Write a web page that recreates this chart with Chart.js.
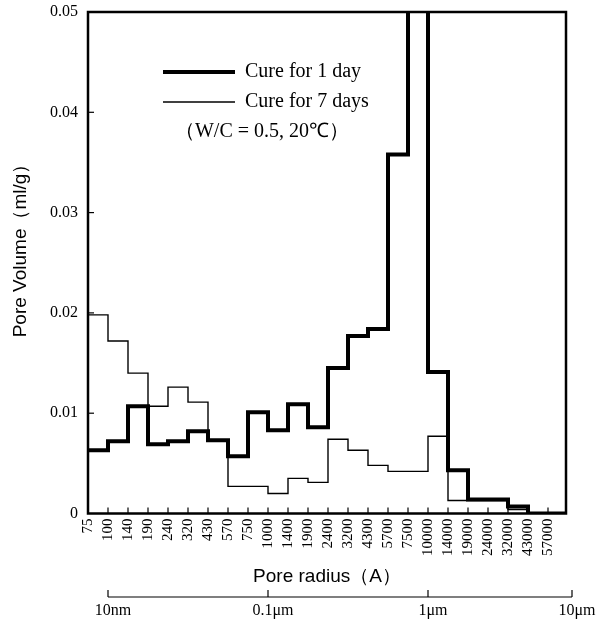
<!DOCTYPE html>
<html><head><meta charset="utf-8">
<script src="https://cdn.jsdelivr.net/npm/chart.js@4.4.0/dist/chart.umd.min.js"></script>
<style>html,body{margin:0;padding:0;background:#fff;}#wrap{width:608px;height:619px;position:relative;}</style>
</head><body><div id="wrap"><canvas id="c"></canvas></div>
<script>
// ---- data ----
const poreRadiusLabels = ['75','100','140','190','240','320','430','570','750','1000','1400','1900','2400','3200','4300','5700','7500','10000','14000','19000','24000','32000','43000','57000'];
const cure1Day  = [0.0063,0.0072,0.0107,0.0069,0.0072,0.0082,0.0073,0.0057,0.0101,0.0083,0.0109,0.0086,0.0145,0.0177,0.0184,0.0358,0.0700,0.0141,0.0043,0.0014,0.0014,0.0007,0,0];
const cure7Days = [0.0198,0.0172,0.0140,0.0107,0.0126,0.0111,0.0073,0.0027,0.0027,0.0020,0.0035,0.0031,0.0074,0.0063,0.0048,0.0042,0.0042,0.0077,0.0013,0.0013,0.0013,0.0004,0,0];
const seriesNames = ['Cure for 1 day','Cure for 7 days'];
const legendNote = '（W/C = 0.5, 20℃）';
const yTitle = 'Pore Volume（ml/g）';
const xTitle = 'Pore radius（A）';
const yTickValues = [0,0.01,0.02,0.03,0.04,0.05];
const yTickLabels = ['0','0.01','0.02','0.03','0.04','0.05'];
const sizeScaleLabels = ['10nm','0.1μm','1μm','10μm'];
const sizeScalePositions = [1, 9, 17, 24.2]; // positions on the pore-radius boundary axis
const X_MAX = 23.9;

function stepPoints(values){
  const pts = values.map((v,i)=>({x:i,y:v}));
  pts.push({x:X_MAX,y:values[values.length-1]});
  return pts;
}

const SERIF = '"Liberation Serif", "Times New Roman", serif';
const SANS = '"Liberation Sans", Arial, sans-serif';

const decor = {
  id:'decor',
  afterDraw(chart){
    const {ctx, chartArea:a, scales:{x,y}} = chart;
    ctx.save();
    ctx.strokeStyle='#000'; ctx.fillStyle='#000';
    // inward tick marks
    ctx.lineWidth=1.2;
    x.ticks.forEach(t=>{
      if(t.value<=0) return;
      const px=x.getPixelForValue(t.value);
      ctx.beginPath(); ctx.moveTo(px,a.bottom); ctx.lineTo(px,a.bottom-6); ctx.stroke();
    });
    y.ticks.forEach(t=>{
      if(t.value<=0||t.value>=0.05) return;
      const py=y.getPixelForValue(t.value);
      ctx.beginPath(); ctx.moveTo(a.left,py); ctx.lineTo(a.left+6,py); ctx.stroke();
    });
    // frame
    ctx.lineWidth=2.5;
    ctx.strokeRect(a.left,a.top,a.right-a.left,a.bottom-a.top);
    // y title
    ctx.save();
    ctx.font='19px '+SANS; ctx.textAlign='center'; ctx.textBaseline='middle';
    ctx.translate(21,246); ctx.rotate(-Math.PI/2);
    ctx.fillText(yTitle,0,0);
    ctx.restore();
    // legend
    const lx0=a.left+75, lx1=a.left+147, tx=a.left+157;
    const rows=[a.top+60,a.top+90];
    const widths=[chart.data.datasets[0].borderWidth, chart.data.datasets[1].borderWidth];
    ctx.font='20px '+SERIF; ctx.textBaseline='middle'; ctx.textAlign='left';
    rows.forEach((ry,i)=>{
      ctx.lineWidth=widths[i];
      ctx.beginPath(); ctx.moveTo(lx0,ry); ctx.lineTo(lx1,ry); ctx.stroke();
      ctx.fillText(seriesNames[i],tx,ry);
    });
    ctx.textAlign='center';
    ctx.fillText(legendNote,a.left+174,a.top+120);
    // secondary size scale
    const ly=597;
    const p=sizeScalePositions.map(v=>x.getPixelForValue(v));
    ctx.lineWidth=1.2;
    ctx.beginPath(); ctx.moveTo(p[0],ly); ctx.lineTo(p[p.length-1],ly); ctx.stroke();
    ctx.font='16px '+SERIF;
    p.forEach((px,i)=>{
      ctx.beginPath(); ctx.moveTo(px,ly-7); ctx.lineTo(px,ly); ctx.stroke();
      ctx.fillText(sizeScaleLabels[i],px+5,611);
    });
    ctx.restore();
  }
};

new Chart(document.getElementById('c'),{
  type:'line',
  data:{datasets:[
    {label:seriesNames[0],data:stepPoints(cure1Day),borderColor:'#000',borderWidth:4,stepped:true,fill:false,pointRadius:0},
    {label:seriesNames[1],data:stepPoints(cure7Days),borderColor:'#000',borderWidth:1.4,stepped:true,fill:false,pointRadius:0}
  ]},
  options:{
    responsive:true,maintainAspectRatio:false,animation:false,
    layout:{padding:{top:12,right:42,left:0,bottom:0}},
    plugins:{legend:{display:false},tooltip:{enabled:false}},
    scales:{
      x:{type:'linear',min:0,max:X_MAX,
        afterBuildTicks:s=>{s.ticks=poreRadiusLabels.map((_,i)=>({value:i}));},
        afterFit:s=>{s.height=105.5; s.paddingLeft=0; s.paddingRight=0;},
        grid:{display:false,drawTicks:false},border:{display:false},
        ticks:{autoSkip:false,maxRotation:90,minRotation:90,padding:5,color:'#000',
          font:{family:SERIF,size:15},callback:(v,i)=>poreRadiusLabels[i]},
        title:{display:true,text:xTitle,color:'#000',font:{family:SANS,size:19},padding:{top:0,bottom:31}}
      },
      y:{min:0,max:0.05,
        afterBuildTicks:s=>{s.ticks=yTickValues.map(v=>({value:v}));},
        afterFit:s=>{s.width=88; s.paddingTop=0; s.paddingBottom=0;},
        grid:{display:false,drawTicks:false},border:{display:false},
        ticks:{padding:10,color:'#000',font:{family:SERIF,size:16},callback:(v,i)=>yTickLabels[i]},
        title:{display:false}
      }
    }
  },
  plugins:[decor]
});
</script>
</body></html>
